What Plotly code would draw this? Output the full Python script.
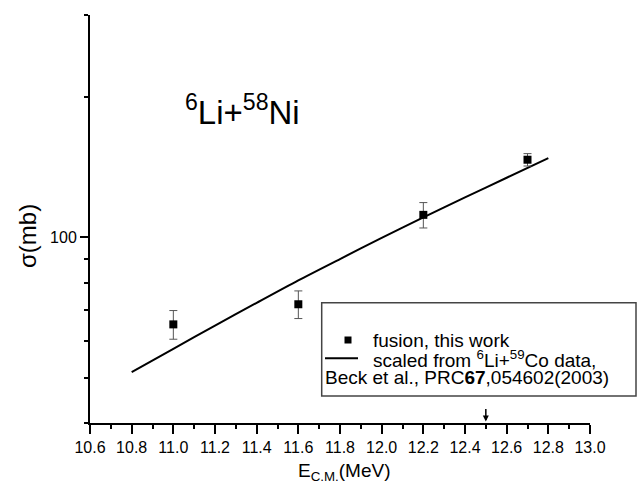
import plotly.graph_objects as go

# ---- data ----
energy = [11.0, 11.6, 12.2, 12.7]
sigma = [65.1, 71.9, 111.8, 146.8]
sigma_err = [4.6, 4.9, 7.0, 4.5]

calc_energy = [10.8, 11.0, 11.2, 11.4, 11.6, 11.8, 12.0, 12.2, 12.4, 12.6, 12.8]
calc_sigma = [51.4, 57.7, 64.7, 72.4, 80.9, 89.9, 99.8, 110.4, 121.9, 134.3, 147.9]

x_tick_vals = [10.6, 10.8, 11.0, 11.2, 11.4, 11.6, 11.8, 12.0, 12.2, 12.4, 12.6, 12.8, 13.0]
x_tick_text = ["10.6", "10.8", "11.0", "11.2", "11.4", "11.6", "11.8", "12.0",
               "12.2", "12.4", "12.6", "12.8", "13.0"]
y_major_vals = [100]
y_major_text = ["100"]
y_minor_vals = [40, 50, 60, 70, 80, 90, 200, 300]

FONT = "Liberation Sans, Arial, sans-serif"
W, H = 642, 487
L, R, T, B = 90, 52, 15, 64


def px(xpix):
    return (xpix - L) / (W - L - R)


def py(ypix):
    return (H - B - ypix) / (H - T - B)


fig = go.Figure()

fig.add_trace(go.Scatter(
    x=calc_energy, y=calc_sigma, mode="lines",
    line=dict(color="black", width=2, shape="spline", smoothing=0.8),
    showlegend=False, hoverinfo="skip"))

fig.add_trace(go.Scatter(
    x=energy, y=sigma, mode="markers",
    marker=dict(symbol="square", size=8, color="black"),
    error_y=dict(type="data", array=sigma_err, visible=True,
                 color="#555555", thickness=1, width=4),
    showlegend=False))

fig.update_layout(
    width=W, height=H,
    margin=dict(l=L, r=R, t=T, b=B),
    paper_bgcolor="white", plot_bgcolor="white",
    font=dict(family=FONT, color="black"),
    xaxis=dict(
        range=[10.6, 13.0], showgrid=False, zeroline=False,
        showline=True, linecolor="black", linewidth=2, mirror=False,
        tickmode="array", tickvals=x_tick_vals, ticktext=x_tick_text,
        ticks="outside", ticklen=9, tickwidth=1.5, tickcolor="black",
        tickfont=dict(size=16, family=FONT),
        minor=dict(dtick=0.1, ticks="outside", ticklen=4, tickwidth=1.5,
                   tickcolor="black", showgrid=False),
    ),
    yaxis=dict(
        type="log", range=[1.60206, 2.47712], showgrid=False, zeroline=False,
        showline=True, linecolor="black", linewidth=2, mirror=False,
        tickmode="array", tickvals=y_major_vals, ticktext=y_major_text,
        ticks="outside", ticklen=8, tickwidth=1.5, tickcolor="black",
        tickfont=dict(size=16, family=FONT),
        minor=dict(tickmode="array", tickvals=y_minor_vals, ticks="outside",
                   ticklen=4, tickwidth=1.5, tickcolor="black", showgrid=False),
    ),
)

annotations = []
# axis titles
annotations.append(dict(
    text="σ(mb)", textangle=-90, x=px(27), y=py(236), xref="paper", yref="paper",
    xanchor="center", yanchor="middle", showarrow=False,
    font=dict(size=24, family=FONT)))
annotations.append(dict(
    text="E<sub>C.M.</sub>(MeV)", x=px(344), y=py(472), xref="paper", yref="paper",
    xanchor="center", yanchor="middle", showarrow=False,
    font=dict(size=19, family=FONT)))
# reaction label
annotations.append(dict(
    text="<sup>6</sup>Li+<sup>58</sup>Ni", x=px(183), y=py(110), xref="paper", yref="paper",
    xanchor="left", yanchor="middle", showarrow=False,
    font=dict(size=33, family=FONT)))
# arrow at 12.5 MeV
annotations.append(dict(
    x=12.5, y=py(421.5), xref="x", yref="paper", showarrow=True,
    ax=0, ay=-14, axref="pixel", ayref="pixel",
    arrowhead=2, arrowsize=0.8, arrowwidth=1.5, arrowcolor="black", text=""))
# legend texts
annotations.append(dict(
    text="fusion, this work", x=px(371), y=py(340), xref="paper", yref="paper",
    xanchor="left", yanchor="middle", showarrow=False, font=dict(size=19, family=FONT)))
annotations.append(dict(
    text="scaled from <sup>6</sup>Li+<sup>59</sup>Co data,", x=px(371), y=py(358.5),
    xref="paper", yref="paper", xanchor="left", yanchor="middle", showarrow=False,
    font=dict(size=19, family=FONT)))
annotations.append(dict(
    text="Beck et al., PRC<b>67</b>,054602(2003)", x=px(323), y=py(377.5),
    xref="paper", yref="paper", xanchor="left", yanchor="middle", showarrow=False,
    font=dict(size=19, family=FONT)))

shapes = []
# legend box
shapes.append(dict(type="rect", xref="paper", yref="paper",
                   x0=px(321.7), x1=px(636), y0=py(396), y1=py(302.7),
                   line=dict(color="#444444", width=1.5), fillcolor="white", layer="above"))
# legend square symbol
shapes.append(dict(type="rect", xref="paper", yref="paper",
                   x0=px(344.5), x1=px(351.5), y0=py(343.5), y1=py(336.5),
                   line=dict(color="black", width=0), fillcolor="black", layer="above"))
# legend line symbol
shapes.append(dict(type="line", xref="paper", yref="paper",
                   x0=px(325), x1=px(358), y0=py(358.3), y1=py(358.3),
                   line=dict(color="black", width=2), layer="above"))

fig.update_layout(annotations=annotations, shapes=shapes)

fig.write_html("out.html")
